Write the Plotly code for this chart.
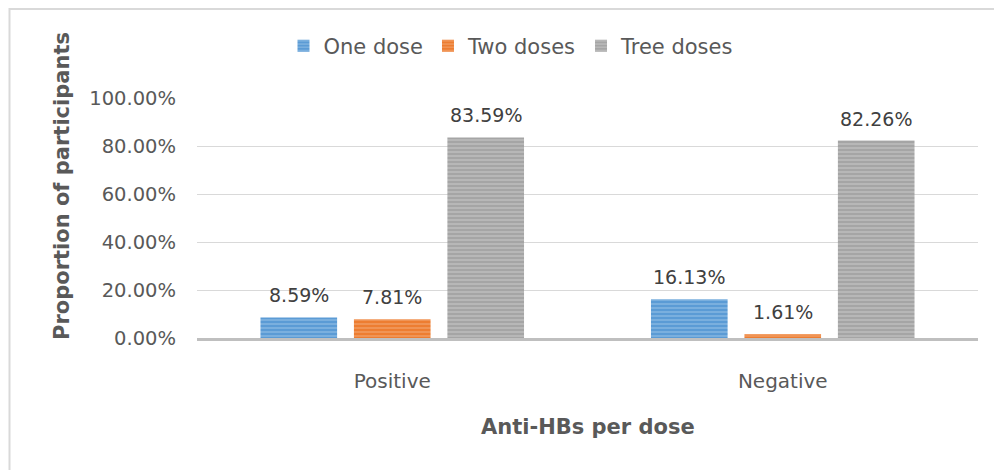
import plotly.graph_objects as go

categories = ["Positive", "Negative"]
series_names = ["One dose", "Two doses", "Tree doses"]
one_dose = [0.0859, 0.1613]
two_doses = [0.0781, 0.0161]
three_doses = [0.8359, 0.8226]
tick_vals = [0, 0.2, 0.4, 0.6, 0.8, 1.0]
tick_text = ["0.00%", "20.00%", "40.00%", "60.00%", "80.00%", "100.00%"]

base_colors = ["#5B9BD5", "#ED7D31", "#A5A5A5"]
stripe_colors = ["#B4D2EE", "#F7BE98", "#D9D9D9"]
values = [one_dose, two_doses, three_doses]

FONT = "Tahoma, DejaVu Sans, sans-serif"
OFF = 8  # page body margin
W, H = 1002 - OFF, 470 - OFF
L, R, T, B = 197 - OFF, 24, 98 - OFF, 132
pw = W - L - R
ph = H - T - B


def px_x(x):
    return (x - OFF - L) / pw


def px_y(y):
    return (338 - y) / ph


fig = go.Figure()
for name, vals, bc, sc in zip(series_names, values, base_colors, stripe_colors):
    fig.add_trace(go.Bar(
        x=categories, y=vals, name=name,
        marker=dict(color=bc, line=dict(width=0),
                    pattern=dict(shape="-", bgcolor=bc, fgcolor=sc, size=4, solidity=0.35)),
    ))

# data labels
slot = pw / 2 * (1 - 0.282) / 3
for i, vals in enumerate(values):
    for c, v in zip(categories, vals):
        fig.add_annotation(x=c, y=v, text=f"{v*100:.2f}%", showarrow=False,
                           xshift=(i - 1) * slot, yanchor="bottom", yshift=9,
                           font=dict(family=FONT, size=19, color="#404040"))

# x axis title
fig.add_annotation(xref="paper", yref="paper", x=0.5, y=px_y(427),
                   text="<b>Anti-HBs per dose</b>", showarrow=False,
                   xanchor="center", yanchor="middle",
                   font=dict(family=FONT, size=21, color="#595959"))
# y axis title
fig.add_annotation(xref="paper", yref="paper", x=px_x(62), y=px_y(186),
                   text="<b>Proportion of participants</b>", showarrow=False, textangle=-90,
                   xanchor="center", yanchor="middle",
                   font=dict(family=FONT, size=21, color="#595959"))

# chart border (left and top edges visible)
fig.add_shape(type="line", xref="paper", yref="paper",
              x0=px_x(9.5), x1=px_x(9.5), y0=px_y(8), y1=px_y(480),
              line=dict(color="#D9D9D9", width=2))
fig.add_shape(type="line", xref="paper", yref="paper",
              x0=px_x(9), x1=px_x(1010), y0=px_y(9), y1=px_y(9),
              line=dict(color="#D9D9D9", width=2))

fig.update_layout(
    width=W, height=H,
    margin=dict(l=L, r=R, t=T, b=B),
    paper_bgcolor="white", plot_bgcolor="white",
    barmode="group", bargap=0.282, bargroupgap=0.18,
    font=dict(family=FONT, size=19, color="#595959"),
    legend=dict(orientation="h", x=px_x(511), xanchor="center",
                y=px_y(46), yanchor="middle",
                font=dict(family=FONT, size=21, color="#595959"),
                itemwidth=30, traceorder="normal"),
    xaxis=dict(showline=True, linecolor="#BFBFBF", linewidth=3,
               ticks="", ticklabelstandoff=23,
               tickfont=dict(family=FONT, size=20, color="#595959")),
    yaxis=dict(range=[0, 1.0], tickvals=tick_vals, ticktext=tick_text,
               showgrid=True, gridcolor="#D9D9D9", gridwidth=1,
               zeroline=False, showline=False, ticks="", ticklabelstandoff=20,
               tickfont=dict(family=FONT, size=19.5, color="#595959")),
)

fig.write_html("out.html")
